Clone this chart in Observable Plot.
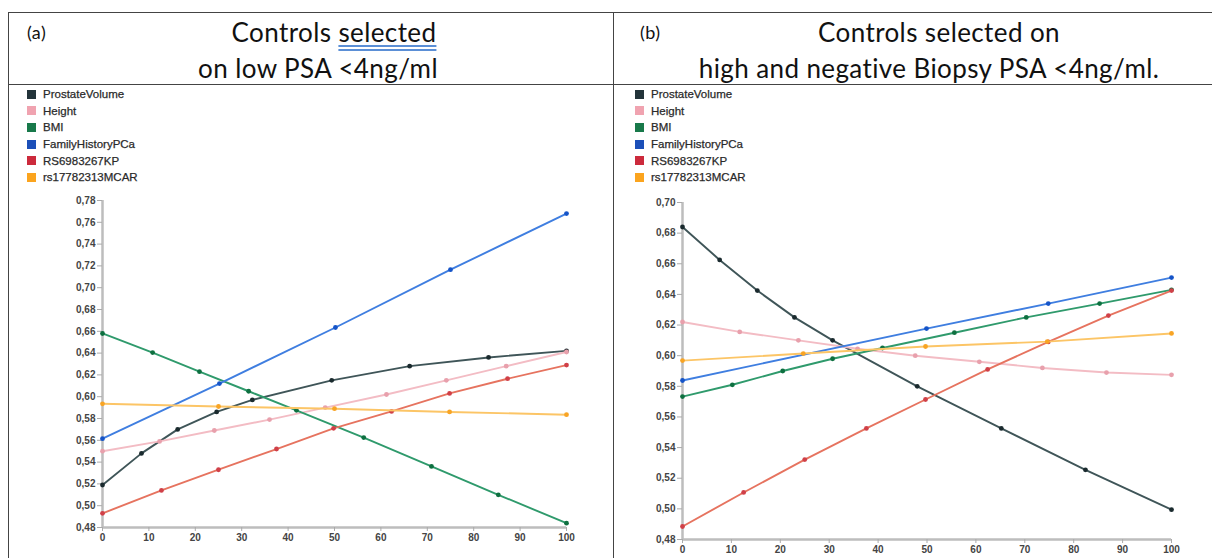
<!DOCTYPE html>
<html><head><meta charset="utf-8">
<script src="https://cdn.jsdelivr.net/npm/d3@7"></script>
<script src="https://cdn.jsdelivr.net/npm/@observablehq/plot@0.6"></script>
<style>
body{margin:0;background:#fff;}
#root{position:relative;width:1212px;height:558px;overflow:hidden;background:#fff;}
.ln{position:absolute;background:#444;}
.t{position:absolute;font-family:Lato,"Open Sans",sans-serif;color:#111;white-space:nowrap;line-height:1;letter-spacing:0.4px;}
.c{transform:translateX(-50%);}
.sp{text-decoration:underline double #5b8fd6;text-underline-offset:3px;}
.leg{position:absolute;font-family:"Liberation Sans",Arial,sans-serif;font-size:11.5px;color:#2a2a2a;-webkit-text-stroke:0.25px #2a2a2a;}
.leg div{height:16.6px;display:flex;align-items:center;}
.leg span.sq{display:inline-block;width:9px;height:9px;margin-right:7px;}
.plot{position:absolute;top:190px;}
</style></head>
<body><div id="root"></div>
<script>
// ---- data ----
const seriesNames = ["ProstateVolume","Height","BMI","FamilyHistoryPCa","RS6983267KP","rs17782313MCAR"];
const legendColors = ["#23343a","#f0a3b0","#18794a","#1c4fb8","#cc2a3c","#fba41e"];
const lineColors = ["#3f5558","#f3bcc4","#2f9a6c","#3f7ee0","#e6735f","#fcc566"];
const dotColors = ["#1a2a2e","#e8a0ac","#0e7040","#1554c8","#d04048","#f8a424"];

// Panel (a): controls selected on low PSA <4ng/ml  [x, AUC]
const aProstateVolume = [[0,0.519],[8.4,0.548],[16.2,0.570],[24.6,0.586],[32.3,0.597],[49.4,0.615],[66.2,0.628],[83.2,0.636],[100,0.642]];
const aHeight = [[0,0.550],[12.3,0.559],[24.1,0.569],[36,0.579],[48,0.590],[61.2,0.602],[74.1,0.615],[87,0.628],[100,0.641]];
const aBMI = [[0,0.658],[10.8,0.6405],[20.9,0.623],[31.5,0.605],[41.8,0.5875],[56.3,0.5625],[70.9,0.536],[85.3,0.510],[100,0.484]];
const aFamilyHistoryPCa = [[0,0.5615],[25.2,0.612],[50.2,0.6635],[75,0.7165],[100,0.768]];
const aRS6983267KP = [[0,0.493],[12.7,0.514],[25,0.533],[37.5,0.552],[49.8,0.571],[62.3,0.5865],[74.8,0.603],[87.3,0.6165],[100,0.629]];
const aRs17782313MCAR = [[0,0.5935],[25,0.591],[50,0.589],[74.8,0.586],[100,0.5835]];

// Panel (b): controls selected on high and negative biopsy PSA <4ng/ml
const bProstateVolume = [[0,0.684],[7.6,0.6625],[15.3,0.6425],[22.9,0.625],[30.7,0.610],[48,0.580],[65.2,0.5525],[82.4,0.5255],[100,0.4995]];
const bHeight = [[0,0.622],[11.7,0.6155],[23.7,0.610],[35.8,0.6045],[47.6,0.600],[60.7,0.596],[73.6,0.592],[86.7,0.589],[100,0.5875]];
const bBMI = [[0,0.5733],[10.2,0.581],[20.5,0.590],[30.7,0.598],[40.9,0.605],[55.6,0.615],[70.3,0.625],[85.3,0.634],[100,0.643]];
const bFamilyHistoryPCa = [[0,0.5838],[49.9,0.6177],[74.8,0.634],[100,0.651]];
const bRS6983267KP = [[0,0.4885],[12.5,0.5107],[25,0.5322],[37.6,0.5525],[49.7,0.5714],[62.4,0.591],[74.8,0.609],[87.1,0.6262],[100,0.6425]];
const bRs17782313MCAR = [[0,0.5968],[24.7,0.6014],[49.7,0.606],[74.6,0.6092],[100,0.6145]];

const xTicks = [0,10,20,30,40,50,60,70,80,90,100];
const aYTicks = [0.48,0.50,0.52,0.54,0.56,0.58,0.60,0.62,0.64,0.66,0.68,0.70,0.72,0.74,0.76,0.78];
const bYTicks = [0.48,0.50,0.52,0.54,0.56,0.58,0.60,0.62,0.64,0.66,0.68,0.70];

const aSeries = [aProstateVolume,aHeight,aBMI,aFamilyHistoryPCa,aRS6983267KP,aRs17782313MCAR];
const bSeries = [bProstateVolume,bHeight,bBMI,bFamilyHistoryPCa,bRS6983267KP,bRs17782313MCAR];

// ---- layout ----
const root = document.getElementById("root");
function line(x,y,w,h){const d=document.createElement("div");d.className="ln";Object.assign(d.style,{left:x+"px",top:y+"px",width:w+"px",height:h+"px"});root.appendChild(d);}
line(8,12,1204,1); line(8,84,1204,1); line(8,12,1,546); line(613,12,1,546);
function text(html,x,y,size,center){const d=document.createElement("div");d.className="t"+(center?" c":"");d.innerHTML=html;Object.assign(d.style,{left:x+"px",top:y+"px",fontSize:size+"px"});root.appendChild(d);}
text("(a)",27,23,18,false);
text('Controls <span class="sp">selected</span>',334,19,26,true);
text("on low PSA &lt;4ng/ml",318,55,26,true);
text("(b)",640,23,18,false);
text("Controls selected on",939,19,26,true);
text("high and negative Biopsy PSA &lt;4ng/ml.",929,55,26,true);

function legend(x){
  const d=document.createElement("div");d.className="leg";d.style.left=x+"px";d.style.top="86px";
  seriesNames.forEach((n,i)=>{const r=document.createElement("div");r.innerHTML=`<span class="sq" style="background:${legendColors[i]}"></span>${n}`;d.appendChild(r);});
  root.appendChild(d);
}
legend(27); legend(635);

function panel(series, yTicks, opts){
  const marks = [
    Plot.ruleX([0],{stroke:"#bdbdbd",strokeWidth:2.5}),
    Plot.ruleY([0.48],{stroke:"#bdbdbd",strokeWidth:2.5}),
    Plot.axisY({ticks:yTicks,tickFormat:d=>d.toFixed(2).replace(".",","),tickSize:5,tickPadding:2,stroke:"#aaa",fill:"#444",fontWeight:"bold",label:null}),
    Plot.axisX({ticks:xTicks,tickSize:4,tickPadding:2,stroke:"#aaa",fill:"#444",fontWeight:"bold",label:null})
  ];
  series.forEach((s,i)=>{
    marks.push(Plot.line(s,{x:d=>d[0],y:d=>d[1],stroke:lineColors[i],strokeWidth:1.9}));
    marks.push(Plot.dot(s,{x:d=>d[0],y:d=>d[1],r:2.4,fill:dotColors[i]}));
  });
  const p = Plot.plot({
    width:opts.width,height:368,marginLeft:opts.ml,marginRight:opts.mr,marginTop:opts.mt,marginBottom:opts.mb,
    x:{domain:[0,100]},y:{domain:[0.48,yTicks[yTicks.length-1]]},
    style:{fontFamily:"'Liberation Sans',Arial,sans-serif",fontSize:"10px",background:"transparent",overflow:"visible"},
    marks
  });
  p.classList.add("plot");p.style.left=opts.left+"px";
  root.appendChild(p);
}
panel(aSeries,aYTicks,{left:0,width:606,ml:102,mr:40,mt:10,mb:31});
panel(bSeries,bYTicks,{left:614,width:598,ml:68,mr:41,mt:12,mb:19});
</script></body></html>
